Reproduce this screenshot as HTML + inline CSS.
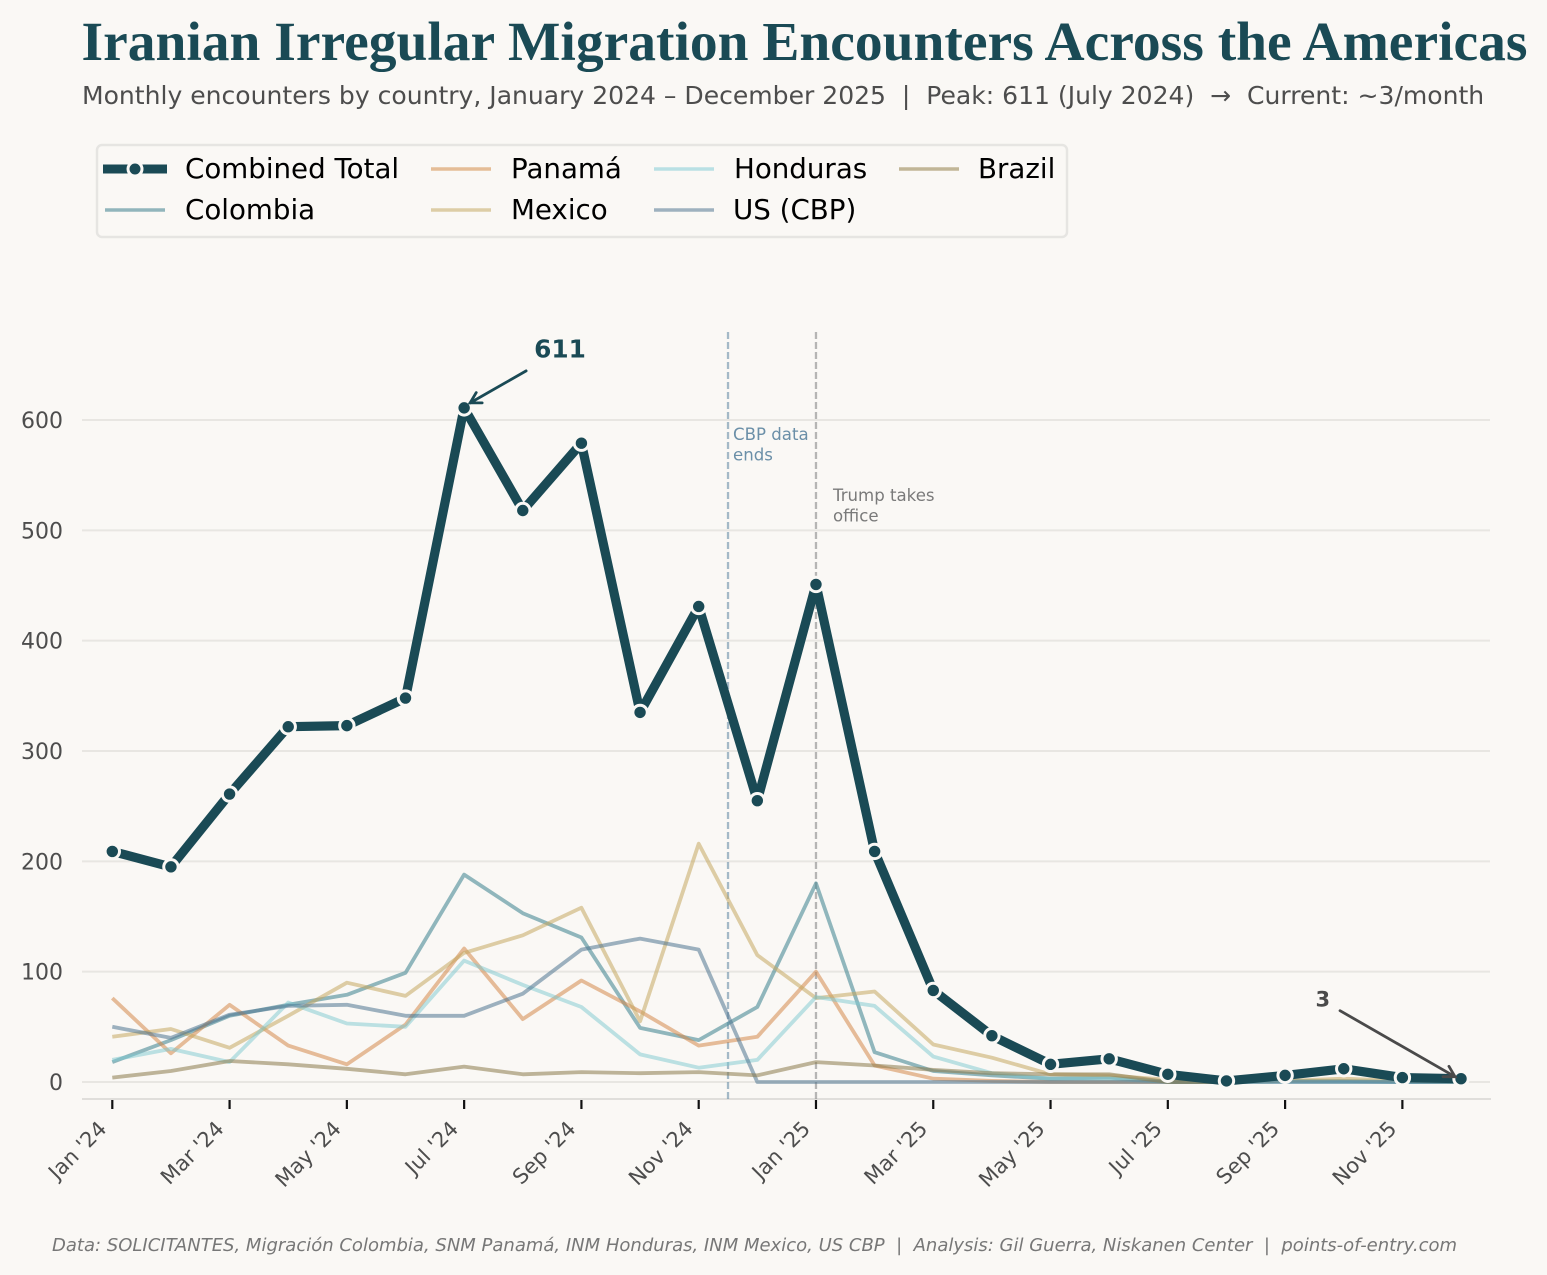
<!DOCTYPE html>
<html lang="en">
<head>
<meta charset="utf-8">
<title>Iranian Irregular Migration Encounters Across the Americas</title>
<style>
html,body{margin:0;padding:0;background:#faf8f5;width:1547px;height:1275px;overflow:hidden}
svg{display:block}
text{font-family:"DejaVu Sans","Liberation Sans",sans-serif;white-space:pre}
</style>
</head>
<body>
<svg id="chart" xmlns="http://www.w3.org/2000/svg" width="1547" height="1275" viewBox="0 0 1547 1275">
<rect x="0" y="0" width="1547" height="1275" fill="#faf8f5"/>
<text x="81.5" y="60" font-size="55.5" font-weight="700" fill="#1a4a55" style="font-family:'Liberation Serif',serif">Iranian Irregular Migration Encounters Across the Americas</text>
<text x="82" y="104" font-size="25.05" fill="#4d4d4d">Monthly encounters by country, January 2024 – December 2025  |  Peak: 611 (July 2024)  →  Current: ~3/month</text>

<g id="grid"></g>
<g id="yticks"></g>
<line x1="82" x2="1491" y1="1099" y2="1099" stroke="#e0dedb" stroke-width="2"/>
<g id="xticks"></g>
<g id="events"></g>
<g id="series"></g>
<g id="annots"></g>

<g>
<rect x="97" y="145" width="970" height="92" rx="5" fill="#faf8f5" stroke="#e6e5e2" stroke-width="2.5"/>
<g>
<line x1="103" x2="167" y1="169" y2="169" stroke="#1a4a55" stroke-width="9"/>
<circle cx="135" cy="169" r="7" fill="#1a4a55" stroke="#faf8f5" stroke-width="3"/>
<text x="185" y="178" font-size="27.7" fill="#000">Combined Total</text>
</g>
<g>
<line x1="105" x2="165" y1="210" y2="210" stroke="#91b5bc" stroke-width="3.5"/>
<text x="185" y="219" font-size="27.7" fill="#000">Colombia</text>
</g>
<g>
<line x1="431" x2="491" y1="169" y2="169" stroke="#e5bd97" stroke-width="3.5"/>
<text x="511" y="178" font-size="27.7" fill="#000">Panamá</text>
</g>
<g>
<line x1="431" x2="491" y1="210" y2="210" stroke="#ddcda6" stroke-width="3.5"/>
<text x="511" y="219" font-size="27.7" fill="#000">Mexico</text>
</g>
<g>
<line x1="654" x2="714" y1="169" y2="169" stroke="#b9e0e4" stroke-width="3.5"/>
<text x="734" y="178" font-size="27.7" fill="#000">Honduras</text>
</g>
<g>
<line x1="654" x2="714" y1="210" y2="210" stroke="#9eb1bf" stroke-width="3.5"/>
<text x="733" y="219" font-size="27.7" fill="#000">US (CBP)</text>
</g>
<g>
<line x1="899" x2="959" y1="169" y2="169" stroke="#c1b697" stroke-width="3.5"/>
<text x="978" y="178" font-size="27.7" fill="#000">Brazil</text>
</g>
</g>

<text x="52" y="1251" font-size="18" font-style="italic" fill="#777">Data: SOLICITANTES, Migración Colombia, SNM Panamá, INM Honduras, INM Mexico, US CBP  |  Analysis: Gil Guerra, Niskanen Center  |  points-of-entry.com</text>
</svg>
<script>
var months = ["Jan '24","Feb '24","Mar '24","Apr '24","May '24","Jun '24","Jul '24","Aug '24","Sep '24","Oct '24","Nov '24","Dec '24","Jan '25","Feb '25","Mar '25","Apr '25","May '25","Jun '25","Jul '25","Aug '25","Sep '25","Oct '25","Nov '25","Dec '25"];
var yTickValues = [0,100,200,300,400,500,600];
var colombia = [18,38,60,70,79,99,188,153,131,49,38,68,180,27,10,6,3,4,0,0,1,1,0,0];
var panama   = [76,26,70,33,16,52,121,57,92,64,33,41,100,15,3,1,0,0,0,0,null,null,null,null];
var mexico   = [41,48,31,60,90,78,117,133,158,55,216,115,76,82,34,22,7,6,2,0,1,3,1,0];
var honduras = [20,30,18,72,53,50,110,88,68,25,13,20,77,69,23,8,3,3,0,0,0,0,0,0];
var usCbp    = [50,40,61,69,70,60,60,80,120,130,120,0,0,0,0,0,0,0,0,0,0,0,0,0];
var brazil   = [4,10,19,16,12,7,14,7,9,8,9,6,18,15,11,8,7,7,0,0,null,null,null,null];
var combinedTotal = [209,195,261,322,323,348,611,518,579,335,431,255,451,209,83,42,16,21,7,1,6,12,4,3];

function sx(i){ return 112.3 + i * 58.64; }
function sy(v){ return 1082 - v * 1.1033; }
var NS = "http://www.w3.org/2000/svg";
function mk(tag, parent, attrs){
  var el = document.createElementNS(NS, tag);
  for (var k in attrs) el.setAttribute(k, attrs[k]);
  parent.appendChild(el);
  return el;
}
var grid = document.getElementById("grid");
var yticks = document.getElementById("yticks");
yTickValues.forEach(function(v){
  var l = mk("line", grid, {x1:82, x2:1490, y1:sy(v), y2:sy(v), stroke:"#e8e6e2", "stroke-width":2});
  
  
  var t = mk("text", yticks, {x:63, y:sy(v)+8, "text-anchor":"end", "font-size":22, fill:"#4d4d4d"});
  t.textContent = v;
  
  
});
var xticks = document.getElementById("xticks");
months.forEach(function(m, i){
  if (i % 2) return;
  var x = sx(i);
  var tk = mk("line", xticks, {x1:x, x2:x, y1:1100, y2:1109, stroke:"#111", "stroke-width":2.2});
  
  
  var t = mk("text", xticks, {x:0, y:0, "text-anchor":"end", "font-size":21, fill:"#4d4d4d", transform:"translate("+(x-4.5)+",1130) rotate(-45)"});
  t.textContent = m;
  
  
});
var events = document.getElementById("events");
var e1 = mk("line", events, {x1:sx(10.5), x2:sx(10.5), y1:332, y2:1099, stroke:"#6b8fa8", "stroke-opacity":0.6, "stroke-width":2.3, "stroke-dasharray":"7 3"});


var e2 = mk("line", events, {x1:sx(12), x2:sx(12), y1:332, y2:1099, stroke:"#888", "stroke-opacity":0.6, "stroke-width":2.3, "stroke-dasharray":"7 3"});


function label(lines, x, y, fill, name){
  lines.forEach(function(s, i){
    var t = mk("text", events, {x:x, y:y + i*20.5, "font-size":16.6, fill:fill});
    t.textContent = s;
    
    
  });
}
label(["CBP data","ends"], 733, 440, "#6b8fa8", "cbp-data-ends-label");
label(["Trump takes","office"], 833, 501, "#7a7a7a", "trump-takes-office-label");

var seriesG = document.getElementById("series");
function pts(vals){
  var out = [];
  vals.forEach(function(v,i){ if (v !== null) out.push(sx(i).toFixed(1)+","+sy(v).toFixed(1)); });
  return out.join(" ");
}
var sub = [
  {vals:colombia, color:"#4a8a96", op:0.6, name:"colombia"},
  {vals:panama, color:"#d4894a", op:0.55, name:"panama"},
  {vals:mexico, color:"#c4a860", op:0.55, name:"mexico"},
  {vals:honduras, color:"#7cc8d0", op:0.5, name:"honduras"},
  {vals:usCbp, color:"#4f7490", op:0.55, name:"us-cbp"},
  {vals:brazil, color:"#8a7a4a", op:0.55, name:"brazil"}
];
sub.forEach(function(s){
  var l = mk("polyline", seriesG, {points:pts(s.vals), fill:"none", stroke:s.color, "stroke-opacity":s.op, "stroke-width":3.8, "stroke-linejoin":"round"});
  
  
});
var tl = mk("polyline", seriesG, {points:pts(combinedTotal), fill:"none", stroke:"#1a4a55", "stroke-width":9.2, "stroke-linejoin":"round"});


combinedTotal.forEach(function(v,i){
  var c = mk("circle", seriesG, {cx:sx(i), cy:sy(v), r:7.2, fill:"#1a4a55", stroke:"#faf8f5", "stroke-width":3});
  
  
});

var annots = document.getElementById("annots");
function arrow(x1,y1,x2,y2,color,name){
  var a = Math.atan2(y2-y1,x2-x1), L = 12, w = 0.52;
  var p = [[x2-L*Math.cos(a-w), y2-L*Math.sin(a-w)],[x2,y2],[x2-L*Math.cos(a+w), y2-L*Math.sin(a+w)]];
  var g = mk("g", annots, {});
  
  
  mk("line", g, {x1:x1,y1:y1,x2:x2,y2:y2,stroke:color,"stroke-width":2.8,"stroke-linecap":"round"});
  mk("polyline", g, {points:p.map(function(q){return q.join(",");}).join(" "),fill:"none",stroke:color,"stroke-width":2.8,"stroke-linecap":"round"});
}
var peak = combinedTotal[6], last = combinedTotal[23];
arrow(sx(6)+62, sy(peak)-37, sx(6)+6, sy(peak)-5, "#1a4a55", "peak-arrow");
var tp = mk("text", annots, {x:sx(6)+70, y:sy(peak)-50.5, "font-size":24.8, "font-weight":700, fill:"#1a4a55"});
tp.textContent = peak;


arrow(sx(23)-121, sy(last)-68, sx(23)-6, sy(last)-2, "#4a4a4a", "current-arrow");
var tc = mk("text", annots, {x:sx(23)-145.5, y:sy(last)-72, "font-size":21, "font-weight":700, fill:"#4a4a4a"});
tc.textContent = last;


</script>
</body>
</html>
